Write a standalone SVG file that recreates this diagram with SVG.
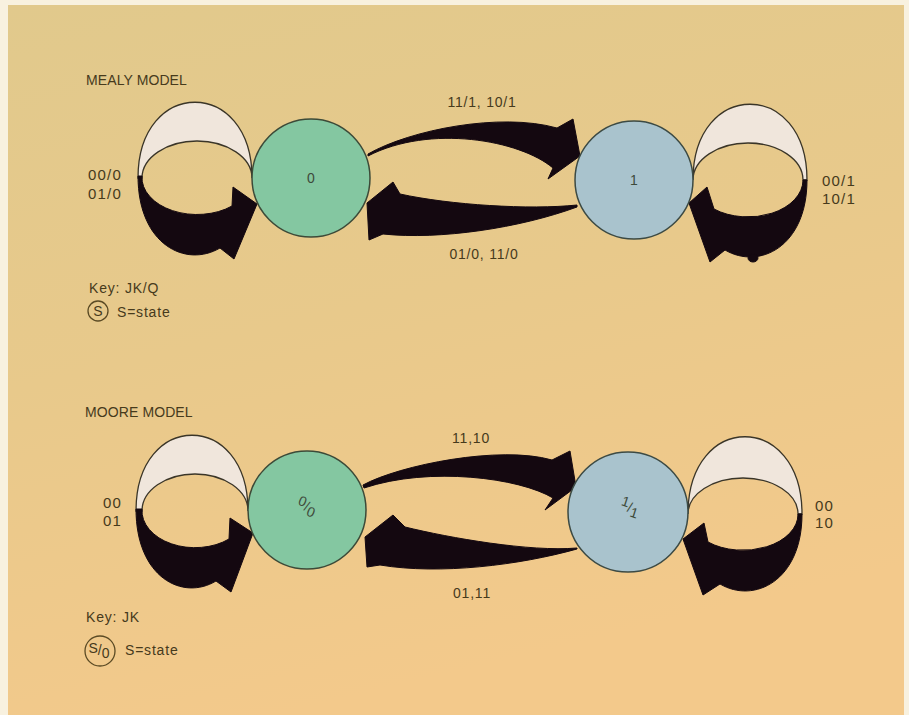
<svg xmlns="http://www.w3.org/2000/svg" width="909" height="715" viewBox="0 0 909 715">
<defs>
<linearGradient id="bg" x1="0" y1="0" x2="0.3" y2="1">
<stop offset="0" stop-color="#e1c98c"/>
<stop offset="0.5" stop-color="#e8c98b"/>
<stop offset="1" stop-color="#f3c98b"/>
</linearGradient>
<style>
.t{font-family:"Liberation Sans",Arial,sans-serif;font-size:14px;fill:#463a1c;letter-spacing:0.8px}
.s{font-size:15px;letter-spacing:1.2px}
.h{letter-spacing:0.1px}
.n{font-family:"Liberation Sans",Arial,sans-serif;font-size:14px;fill:#3e4a3a;text-anchor:middle}
.green{fill:#84c7a1;stroke:#3c4a38;stroke-width:1.5}
.blue{fill:#a9c3cd;stroke:#3c4a44;stroke-width:1.5}
.white{fill:#f0e6dc;stroke:#3a3528;stroke-width:1.3}
.black{fill:#140810;stroke:#140810;stroke-width:1}
.key{fill:none;stroke:#5a4a24;stroke-width:1.3}
</style>
</defs>
<rect x="0" y="0" width="909" height="715" fill="#f8f1df"/>
<rect x="8" y="5" width="896" height="710" fill="url(#bg)"/>

<g id="titles">
<text class="t h" x="86" y="85">MEALY MODEL</text>
<text class="t h" x="85" y="417">MOORE MODEL</text>
</g>

<g id="connectors">
<g id="mealy-loop-0">
<path class="white" d="M138,178 C138,77 252,77 252,178 A55,37 0 0 0 142,178 Z"/>
<path class="black" d="M138,176 C138,245 186,268 220,248 L234,259 L257,204 L233,187 L232,206 A55,37 0 0 1 142,176 Z"/>
</g>
<g id="mealy-loop-1">
<path class="white" d="M807,180 C807,79 693,79 693,180 A55,37 0 0 1 803,180 Z"/>
<path class="black" d="M807,180 C807,247 759,270 725,250 L710,262 L689,203 L707,187 L714,209 A55,37 0 0 0 803,180 Z"/>
<ellipse class="black" cx="753" cy="258" rx="5" ry="4"/>
</g>
<path id="mealy-0-1" class="black" d="M368,154 C410,130 500,112 557,128 L573,119 L580,156 L548,179 L553,168 C520,140 430,124 368,156 Z"/>
<path id="mealy-1-0" class="black" d="M577,205 C530,210 450,205 400,194 L393,182 L367,203 L369,240 L383,234 C440,240 520,228 577,207 Z"/>

<g id="moore-loop-0">
<path class="white" d="M136,511 C136,410 248,410 248,511 A53,37 0 0 0 142,511 Z"/>
<path class="black" d="M136,509 C136,578 183,601 216,581 L231,592 L253,533 L230,518 L229,539 A53,37 0 0 1 142,509 Z"/>
</g>
<g id="moore-loop-1">
<path class="white" d="M802,514 C802,411 688,411 688,514 A55,36 0 0 1 798,514 Z"/>
<path class="black" d="M802,514 C802,581 754,604 720,584 L703,595 L683,539 L704,523 L708,542 A55,36 0 0 0 798,514 Z"/>
</g>
<path id="moore-0-1" class="black" d="M363,485 C400,465 500,445 552,460 L570,451 L576,487 L545,510 L553,498 C520,478 430,466 364,488 Z"/>
<path id="moore-1-0" class="black" d="M577,548 C530,552 450,538 405,527 L393,515 L365,537 L367,567 L380,565 C440,575 520,565 577,549 Z"/>
</g>

<g id="mealy-node-0">
<circle class="green" cx="311" cy="178" r="59"/>
<text class="n" x="311" y="183">0</text>
</g>
<g id="mealy-node-1">
<circle class="blue" cx="634" cy="180" r="59"/>
<text class="n" x="634" y="185">1</text>
</g>
<g id="moore-node-0">
<circle class="green" cx="307" cy="510" r="59"/>
<text class="n" transform="rotate(22 307 506)" x="307" y="511"><tspan dy="-3">0</tspan><tspan dy="3">/</tspan><tspan dy="4">0</tspan></text>
</g>
<g id="moore-node-1">
<circle class="blue" cx="628" cy="512" r="60"/>
<text class="n" transform="rotate(18 630 507)" x="630" y="512"><tspan dy="-4">1</tspan><tspan dy="4">/</tspan><tspan dy="4">1</tspan></text>
</g>

<g id="labels">
<text class="t" x="482" y="107" text-anchor="middle">11/1, 10/1</text>
<text class="t" x="484" y="259" text-anchor="middle">01/0, 11/0</text>
<text class="t s" x="88" y="180">00/0</text>
<text class="t s" x="88" y="199">01/0</text>
<text class="t s" x="822" y="186">00/1</text>
<text class="t s" x="822" y="204">10/1</text>
<text class="t" x="471" y="443" text-anchor="middle">11,10</text>
<text class="t" x="472" y="598" text-anchor="middle">01,11</text>
<text class="t s" x="103" y="508">00</text>
<text class="t s" x="103" y="526">01</text>
<text class="t s" x="815" y="511">00</text>
<text class="t s" x="815" y="528">10</text>
</g>

<g id="mealy-key">
<text class="t" x="89" y="293">Key: JK/Q</text>
<circle class="key" cx="98" cy="311" r="10"/>
<text class="t" x="98" y="316" text-anchor="middle" style="letter-spacing:0">S</text>
<text class="t" x="117" y="317">S=state</text>
</g>
<g id="moore-key">
<text class="t" x="86" y="622">Key: JK</text>
<circle class="key" cx="100" cy="651" r="15"/>
<text class="t" x="99" y="655" text-anchor="middle" style="letter-spacing:0"><tspan dy="-2">S</tspan><tspan dy="2">/</tspan><tspan dy="3">0</tspan></text>
<text class="t" x="125" y="655">S=state</text>
</g>
</svg>
